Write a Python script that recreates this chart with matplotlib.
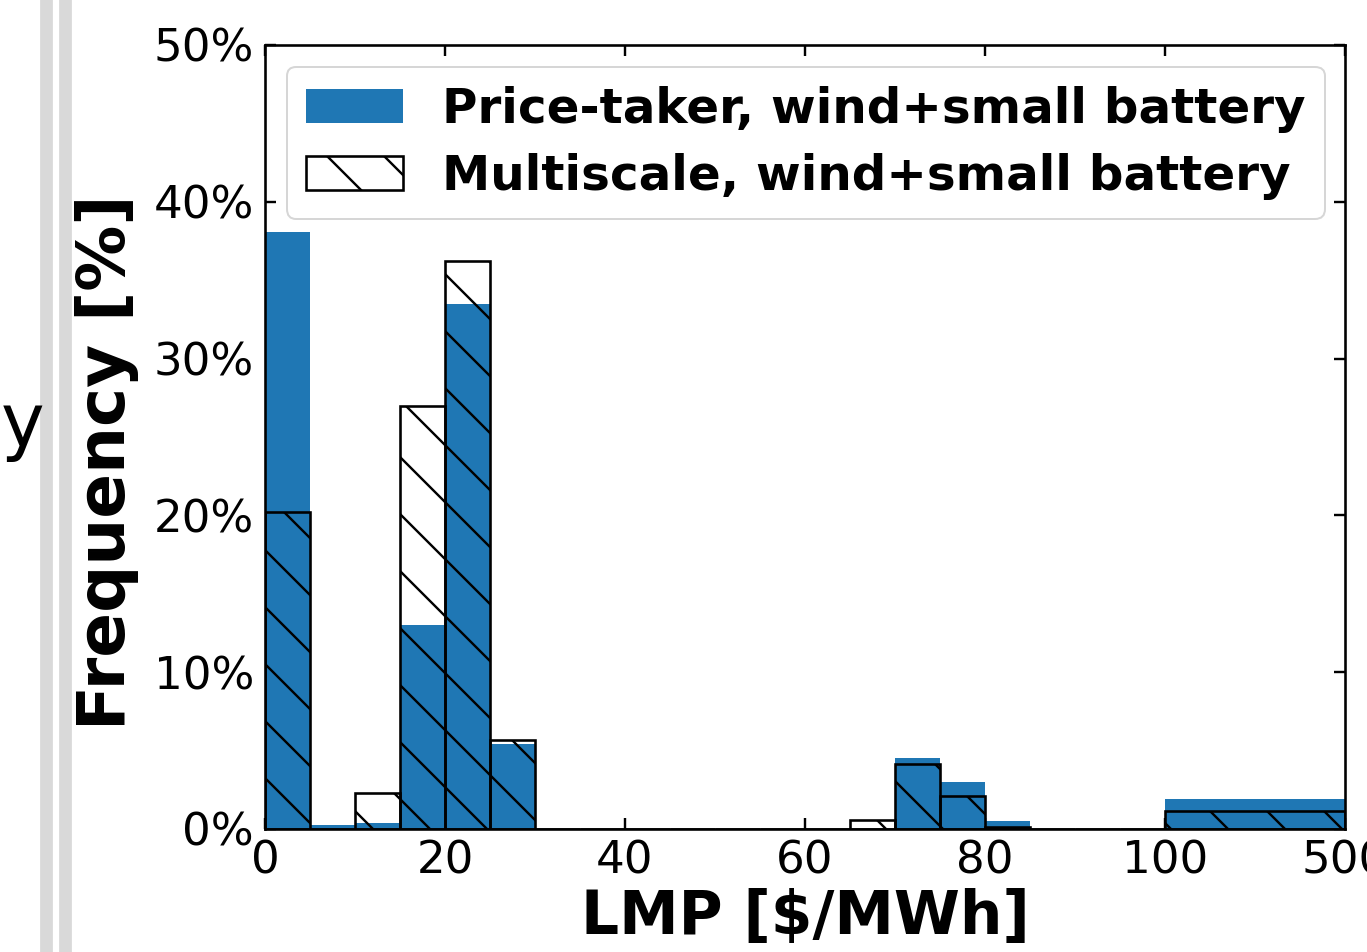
import matplotlib
matplotlib.use("Agg")
import matplotlib.pyplot as plt
import numpy as np

# ---- data ----
bin_edges = [0, 5, 10, 15, 20, 25, 30, 35, 40, 45, 50, 55, 60, 65, 70, 75, 80, 85, 90, 95, 100, 120]
price_taker = [38.1, 0.25, 0.4, 13.0, 33.5, 5.4, 0, 0, 0, 0, 0, 0, 0, 0, 4.5, 3.0, 0.5, 0, 0, 0, 1.9]
multiscale = [20.2, 0, 2.3, 27.0, 36.2, 5.7, 0, 0, 0, 0, 0, 0, 0, 0.6, 4.15, 2.1, 0.13, 0, 0, 0, 1.16]
xtick_pos = [0, 20, 40, 60, 80, 100, 120]
xtick_labels = ["0", "20", "40", "60", "80", "100", "500"]
ytick_pos = [0, 10, 20, 30, 40, 50]
ytick_labels = ["0%", "10%", "20%", "30%", "40%", "50%"]
label_pt = "Price-taker, wind+small battery"
label_ms = "Multiscale, wind+small battery"

DPI = 342
W, H = 1367, 952
P = 72.0 / DPI  # points per pixel

plt.rcParams["font.family"] = ["DejaVu Sans"]
plt.rcParams["hatch.linewidth"] = 2.4 * P
plt.rcParams["axes.linewidth"] = 2.6 * P

fig = plt.figure(figsize=(W / DPI, H / DPI), dpi=DPI)
ax = fig.add_axes([265 / W, 1 - 829 / H, 1080 / W, 784 / H])

lefts = np.array(bin_edges[:-1])
widths = np.diff(bin_edges)

ax.bar(lefts, price_taker, width=widths, align="edge", color="#1f77b4",
       linewidth=0, label=label_pt, zorder=2)
ax.bar(lefts, multiscale, width=widths, align="edge", fill=False,
       edgecolor="black", hatch="\\\\", linewidth=2.6 * P, label=label_ms, zorder=3)

ax.set_xlim(0, 120)
ax.set_ylim(0, 50)
ax.set_xticks(xtick_pos)
ax.set_xticklabels(xtick_labels)
ax.set_yticks(ytick_pos)
ax.set_yticklabels(ytick_labels)
ax.tick_params(direction="in", top=True, right=True, length=11 * P,
               width=2.4 * P, labelsize=9.5, pad=11 * P)

ax.set_xlabel("LMP [$/MWh]", fontsize=12.6, fontweight="bold", labelpad=1.0)
ax.set_ylabel("Frequency [%]", fontsize=13.9, fontweight="bold")
ax.yaxis.set_label_coords(-0.117, 0.468)

leg = ax.legend(loc="upper left", prop={"weight": "bold", "size": 10.2},
                frameon=True, fancybox=True, edgecolor="0.8",
                labelspacing=0.4, borderaxespad=0.45)
leg.get_frame().set_linewidth(2 * P)

# left-side artifacts from neighbouring panel
for x0, x1 in [(42, 50), (61, 69)]:
    fig.patches.append(matplotlib.patches.Rectangle((x0 / W, 0), (x1 - x0) / W, 1,
                       transform=fig.transFigure, color="#d9d9d9", zorder=0))
fig.text(44 / W, 1 - 446 / H, "y", fontsize=15.5, ha="right", va="baseline")

fig.savefig("out.png", dpi=DPI)
